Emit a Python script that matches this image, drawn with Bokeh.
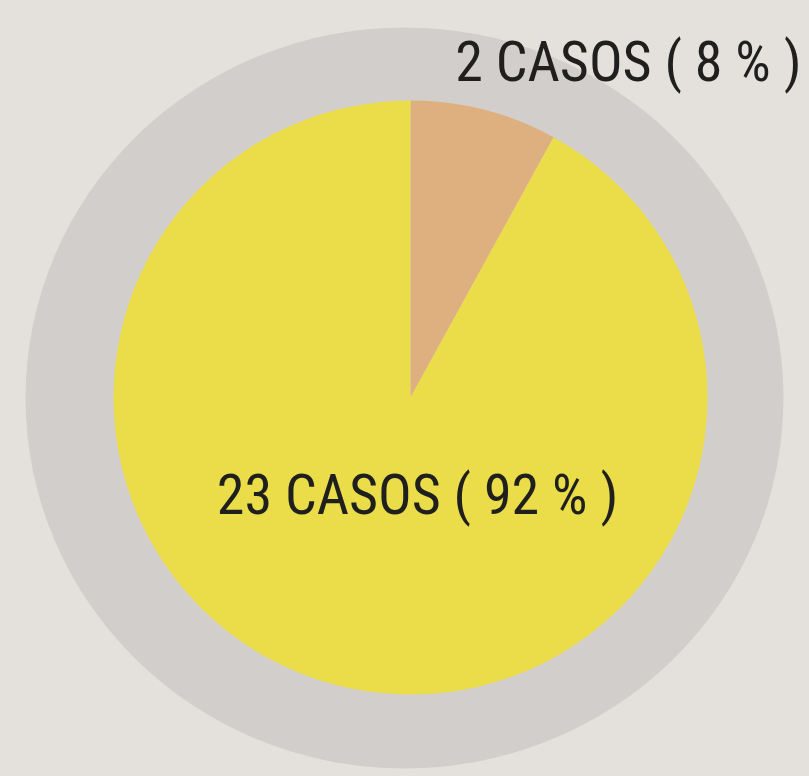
import numpy as np
from bokeh.plotting import figure
from bokeh.models import Range1d, ColumnDataSource
from bokeh.core.properties import value
from bokeh.embed import file_html
from bokeh.resources import INLINE
from jinja2 import Template

# ---- data ----
labels = ["2 CASOS ( 8 % )", "23 CASOS ( 92 % )"]
counts = [2, 23]
colors = ["#dfb07f", "#ebdd4a"]

W, H = 809, 776
p = figure(width=W, height=H, output_backend="svg", toolbar_location=None,
           x_range=Range1d(0, W), y_range=Range1d(0, H), min_border=0)
p.axis.visible = False
p.grid.visible = False
p.outline_line_color = None
p.background_fill_color = "#e4e1dd"
p.border_fill_color = "#e4e1dd"

# outer halo
p.ellipse(x=404, y=H - 397.5, width=758, height=741, fill_color="#d2cecb",
          line_color=None)

# pie
cx, cy, r = 410, H - 397, 297
total = sum(counts)
fr = np.array(counts) / total
ends = np.cumsum(fr)
starts = ends - fr
start_ang = np.pi / 2 - starts * 2 * np.pi
end_ang = np.pi / 2 - ends * 2 * np.pi
src = ColumnDataSource(dict(start=start_ang, end=end_ang, color=colors))
p.wedge(x=cx, y=cy, radius=r, start_angle="end", end_angle="start",
        fill_color="color", line_color=None, source=src)

font = value("Roboto Condensed")
p.text(x=[801], y=[H - 61], text=[labels[0]], text_font=font,
       text_font_size="56px", text_align="right", text_baseline="alphabetic",
       text_color="#1f1f1d")
p.text(x=[417], y=[H - 494], text=[labels[1]], text_font=font,
       text_font_size="56px", text_align="center", text_baseline="alphabetic",
       text_color="#1f1f1d")

template = Template("""{% extends base %}
{% block postamble %}<style>body{background:#e4e1dd;}</style>{% endblock %}""")
open("out.html", "w").write(file_html(p, INLINE, template=template))
